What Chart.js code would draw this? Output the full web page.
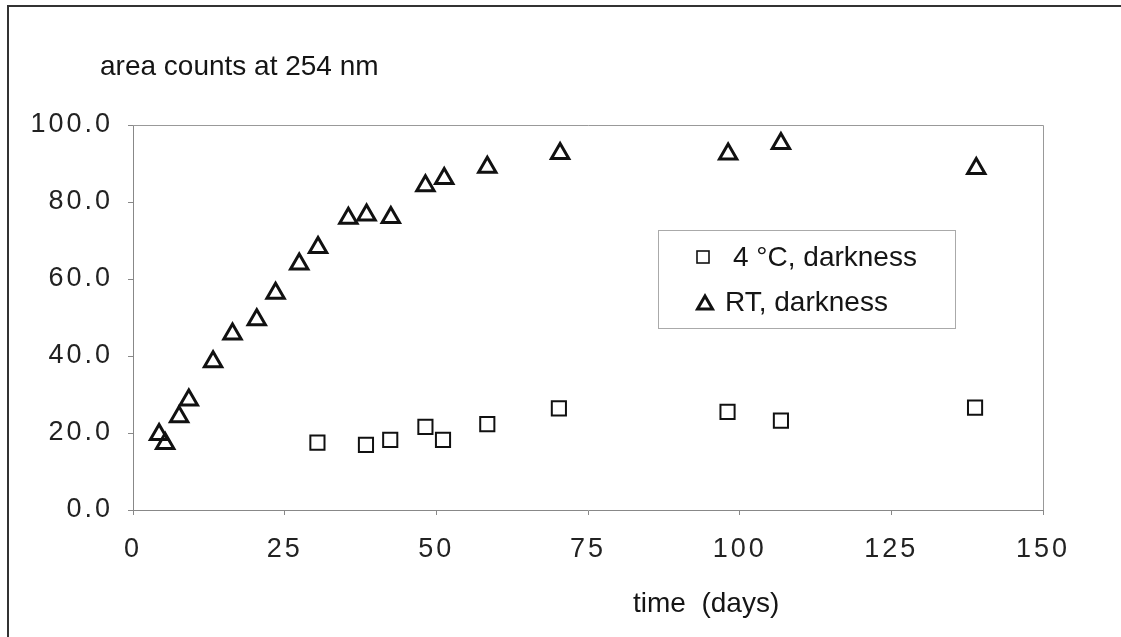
<!DOCTYPE html>
<html>
<head>
<meta charset="utf-8">
<script src="https://cdn.jsdelivr.net/npm/chart.js@4.4.1/dist/chart.umd.min.js"></script>
<style>
html,body{margin:0;padding:0;background:#fff;}
#wrap{position:relative;width:1121px;height:637px;overflow:hidden;background:#fff;}
#frame{position:absolute;left:7px;top:5px;width:1130px;height:660px;border-left:2px solid #333;border-top:2px solid #333;}
#c{position:absolute;left:0;top:0;}
</style>
</head>
<body>
<div id="wrap"><div id="frame"></div><canvas id="c" width="1121" height="637"></canvas></div>
<script>
// ---- data ----
const seriesNames = ['4 °C, darkness', 'RT, darkness'];
const days4C = [30.4, 38.4, 42.4, 48.2, 51.1, 58.4, 70.2, 98.0, 106.8, 138.8];
const area4C = [17.5, 16.9, 18.2, 21.6, 18.2, 22.3, 26.4, 25.5, 23.2, 26.6];
const daysRT = [4.3, 5.3, 7.6, 9.2, 13.2, 16.4, 20.4, 23.5, 27.4, 30.5, 35.5, 38.5, 42.5, 48.2, 51.3, 58.4, 70.4, 98.1, 106.8, 139.0];
const areaRT = [19.6, 17.3, 24.2, 28.6, 38.5, 45.7, 49.4, 56.3, 63.9, 68.2, 75.8, 76.6, 76.0, 84.2, 86.1, 89.0, 92.6, 92.5, 95.2, 88.7];
const xTicks = [0, 25, 50, 75, 100, 125, 150];
const yTicks = [0, 20, 40, 60, 80, 100];
const titleText = 'area counts at 254 nm';
const xTitleText = 'time  (days)';

const FONT = '"Liberation Sans", Arial, Helvetica, sans-serif';

function toPoints(xs, ys) { return xs.map((x, i) => ({ x: x, y: ys[i] })); }

const decor = {
  id: 'decor',
  beforeDraw(chart) { chart.ctx.letterSpacing = '3px'; },
  afterDraw(chart) {
    const ctx = chart.ctx, a = chart.chartArea;
    ctx.save();
    ctx.letterSpacing = '0px';
    // plot frame (top / right edges)
    ctx.strokeStyle = '#999';
    ctx.lineWidth = 1;
    ctx.beginPath();
    ctx.moveTo(a.left, a.top + 0.5); ctx.lineTo(a.right + 0.5, a.top + 0.5); ctx.lineTo(a.right + 0.5, a.bottom);
    ctx.stroke();
    // titles
    ctx.fillStyle = '#151515';
    ctx.font = '28px ' + FONT;
    ctx.textBaseline = 'middle';
    ctx.textAlign = 'left';
    ctx.fillText(titleText, 100, 67);
    ctx.fillText(xTitleText, 633, 604);
    // legend box
    ctx.strokeStyle = '#aaa';
    ctx.lineWidth = 1;
    ctx.strokeRect(658.5, 230.5, 297, 98);
    const ds = chart.data.datasets;
    // square item
    ctx.strokeStyle = '#111';
    ctx.lineWidth = 1.6;
    ctx.strokeRect(697, 251, 12, 12);
    ctx.fillText(ds[0].label, 733, 258);
    // triangle item
    ctx.lineWidth = 3;
    ctx.lineJoin = 'miter';
    ctx.beginPath();
    ctx.moveTo(705, 296); ctx.lineTo(712.5, 309); ctx.lineTo(697.5, 309); ctx.closePath();
    ctx.stroke();
    ctx.fillText(ds[1].label, 725, 303);
    ctx.restore();
  }
};

new Chart(document.getElementById('c'), {
  type: 'scatter',
  data: {
    datasets: [
      {
        label: seriesNames[0],
        data: toPoints(days4C, area4C),
        pointStyle: 'rect',
        pointRadius: 10,
        pointHoverRadius: 10,
        borderColor: '#111',
        backgroundColor: 'rgba(0,0,0,0)',
        pointBorderWidth: 2,
        showLine: false
      },
      {
        label: seriesNames[1],
        data: toPoints(daysRT, areaRT),
        pointStyle: 'triangle',
        pointRadius: 10,
        pointHoverRadius: 10,
        borderColor: '#111',
        backgroundColor: 'rgba(0,0,0,0)',
        pointBorderWidth: 3,
        showLine: false
      }
    ]
  },
  options: {
    responsive: false,
    animation: false,
    devicePixelRatio: 1,
    layout: { padding: { top: 125, right: 78, left: 0, bottom: 0 } },
    plugins: { legend: { display: false }, title: { display: false }, tooltip: { enabled: false } },
    scales: {
      x: {
        type: 'linear',
        min: 0, max: 150,
        afterBuildTicks: s => { s.ticks = xTicks.map(v => ({ value: v })); },
        afterFit: s => { s.height = 127; },
        ticks: {
          callback: v => String(v),
          font: { family: FONT, size: 27 },
          color: '#222',
          padding: 18,
          maxRotation: 0
        },
        grid: { display: true, drawOnChartArea: false, drawTicks: true, tickLength: 5, color: '#888' },
        border: { display: true, color: '#888', width: 1 }
      },
      y: {
        type: 'linear',
        min: 0, max: 100,
        afterBuildTicks: s => { s.ticks = yTicks.map(v => ({ value: v })); },
        afterFit: s => { s.width = 133; },
        ticks: {
          callback: v => Number(v).toFixed(1),
          font: { family: FONT, size: 27 },
          color: '#222',
          padding: 15
        },
        grid: { display: true, drawOnChartArea: false, drawTicks: true, tickLength: 5, color: '#888' },
        border: { display: true, color: '#888', width: 1 }
      }
    }
  },
  plugins: [decor]
});
</script>
</body>
</html>
